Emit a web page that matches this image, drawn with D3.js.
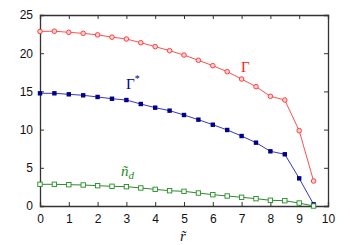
<!DOCTYPE html>
<html><head><meta charset="utf-8">
<script src="https://cdn.jsdelivr.net/npm/d3@7"></script>
<style>body{margin:0;background:#fff}svg{display:block}</style>
</head><body>
<script>
const rVals = [0,0.5,1,1.5,2,2.5,3,3.5,4,4.5,5,5.5,6,6.5,7,7.5,8,8.5,9,9.5];
const gamma = [22.85,22.88,22.73,22.6,22.4,22.1,21.86,21.37,20.86,20.33,19.76,19.07,18.37,17.58,16.62,15.62,14.36,13.87,9.86,3.27];
const gammaStar = [14.75,14.75,14.62,14.49,14.27,14.04,13.87,13.35,12.87,12.48,11.91,11.3,10.64,9.95,9.16,8.29,7.16,6.77,3.62,0.22];
const nd = [2.84,2.84,2.79,2.75,2.66,2.58,2.53,2.36,2.18,2.0,1.92,1.70,1.48,1.31,1.14,0.96,0.75,0.69,0.39,0.0];
const xTicks = [0,1,2,3,4,5,6,7,8,9,10];
const yTicks = [0,5,10,15,20,25];

const W = 350, H = 245;
const m = {l:40, r:22, t:15, b:39};
const svg = d3.select("body").append("svg").attr("width", W).attr("height", H);
const x = d3.scaleLinear().domain([0,10]).range([m.l, W - m.r]);
const y = d3.scaleLinear().domain([0,25]).range([H - m.b, m.t]);
const font = "Liberation Sans, Arial, sans-serif";
const axisCol = "#333";

const gb = svg.append("g").attr("transform", `translate(0,${H - m.b})`)
  .call(d3.axisBottom(x).tickValues(xTicks).tickSize(-4).tickPadding(8).tickFormat(d3.format("d")));
const gt = svg.append("g").attr("transform", `translate(0,${m.t})`)
  .call(d3.axisTop(x).tickValues(xTicks).tickSize(-4).tickFormat(""));
const gl = svg.append("g").attr("transform", `translate(${m.l},0)`)
  .call(d3.axisLeft(y).tickValues(yTicks).tickSize(-4).tickPadding(7).tickFormat(d3.format("d")));
const gr = svg.append("g").attr("transform", `translate(${W - m.r},0)`)
  .call(d3.axisRight(y).tickValues(yTicks).tickSize(-4).tickFormat(""));
[gb,gt,gl,gr].forEach(g => {
  g.select(".domain").attr("stroke", axisCol).attr("stroke-width", 1.3);
  g.selectAll(".tick line").attr("stroke", axisCol).attr("stroke-width", 1);
  g.selectAll("text").attr("font-family", font).attr("font-size", 12).attr("fill", "#111");
});
gb.selectAll(".tick").filter(d => d === 0 || d === 10).select("line").remove();
gl.selectAll(".tick").filter(d => d === 0 || d === 25).select("line").remove();
gt.selectAll(".tick").filter(d => d === 0 || d === 10).select("line").remove();
gr.selectAll(".tick").filter(d => d === 0 || d === 25).select("line").remove();

const line = d3.line().x((d,i) => x(rVals[i])).y(d => y(d));

function series(vals, lineCol, markCol, shape) {
  svg.append("path").datum(vals).attr("d", line).attr("fill", "none")
    .attr("stroke", lineCol).attr("stroke-width", 1);
  const g = svg.append("g");
  vals.forEach((v,i) => {
    const cx = x(rVals[i]), cy = y(v);
    if (shape === "circle") {
      g.append("circle").attr("cx", cx).attr("cy", cy).attr("r", 2.3)
        .attr("fill", "#ffd0d0").attr("stroke", markCol).attr("stroke-width", 0.9);
    } else if (shape === "fsquare") {
      g.append("rect").attr("x", cx - 2.2).attr("y", cy - 2.2).attr("width", 4.4).attr("height", 4.4)
        .attr("fill", markCol);
    } else {
      g.append("rect").attr("x", cx - 2.2).attr("y", cy - 2.2).attr("width", 4.4).attr("height", 4.4)
        .attr("fill", "#fff").attr("stroke", markCol).attr("stroke-width", 0.9);
    }
  });
}
series(gamma, "#ff5050", "#ff3030", "circle");
series(gammaStar, "#3838c0", "#00008b", "fsquare");
series(nd, "#2e8b2e", "#228b22", "osquare");

const serif = "Liberation Serif, DejaVu Serif, serif";
svg.append("text").attr("x", 241).attr("y", 72).attr("font-family", serif).attr("font-size", 15)
  .attr("fill", "#ff2020").text("Γ");
const gs = svg.append("text").attr("x", 126).attr("y", 89).attr("font-family", serif).attr("font-size", 15)
  .attr("fill", "#00008b");
gs.append("tspan").text("Γ");
gs.append("tspan").attr("dy", -7).attr("font-size", 10).text("*");
const gn = svg.append("text").attr("x", 121).attr("y", 176).attr("font-family", serif).attr("font-size", 15)
  .attr("font-style", "italic").attr("fill", "#228b22");
gn.append("tspan").text("ñ");
gn.append("tspan").attr("dy", 3).attr("font-size", 11).text("d");
svg.append("text").attr("x", 180).attr("y", 241).attr("font-family", serif).attr("font-size", 15)
  .attr("font-style", "italic").attr("fill", "#111").text("r\u0303");
</script>
</body></html>
